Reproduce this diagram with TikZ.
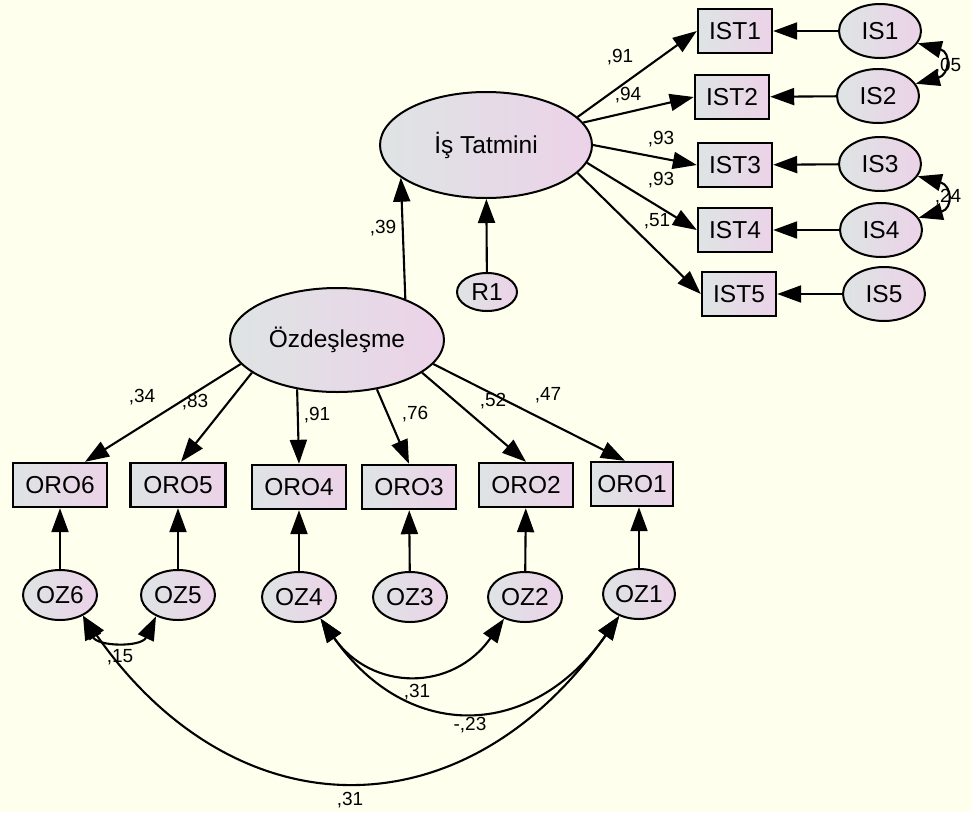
\documentclass[tikz,border=0pt]{standalone}
\usepackage{fontspec}
\setmainfont{Liberation Sans}
\usetikzlibrary{shapes, arrows.meta, calc, positioning}
\definecolor{bgcol}{RGB}{255,255,238}
\definecolor{fillL}{RGB}{222,228,228}
\definecolor{fillR}{RGB}{236,210,232}

\begin{document}
\begin{tikzpicture}[x=1pt, y=1pt,
        every node/.style = {font=\fontsize{24.5}{29}\selectfont},
        obs/.style = {rectangle, draw, line width=2.4pt, left color=fillL, right color=fillR, minimum height=44pt, inner sep=0pt},
        lat/.style = {ellipse, draw, line width=2pt, left color=fillL, right color=fillR, inner sep=0pt},
        err/.style = {lat, minimum width=74pt, minimum height=50pt},
        reg/.style = {line width=2.1pt, -{Triangle[length=24pt, width=17pt]}},
        cov/.style = {line width=2.1pt, {Triangle[length=24pt, width=17pt]}-{Triangle[length=24pt, width=17pt]}},
        lbl/.style = {font=\fontsize{19}{21}\selectfont, inner sep=0pt}]
        \useasboundingbox (0, 0) rectangle (972, -812);
        \fill[bgcol] (0, 0) rectangle (972, -812);

        \node[lat, minimum width=212pt, minimum height=106pt] (IsT) at (486, -145) {İş Tatmini};
        \node[lat, minimum width=60pt, minimum height=38pt] (R1) at (487, -292) {R1};
        \node[lat, minimum width=214pt, minimum height=104pt] (Ozd) at (337, -340) {Özdeşleşme};

        \node[obs, minimum width=74pt] (IST1) at (735, -31) {IST1};
        \node[obs, minimum width=74pt] (IST2) at (732, -97) {IST2};
        \node[obs, minimum width=74pt] (IST3) at (735, -165) {IST3};
        \node[obs, minimum width=74pt] (IST4) at (735, -230) {IST4};
        \node[obs, minimum width=74pt] (IST5) at (739, -294) {IST5};

        \node[err, minimum width=82pt, minimum height=54pt] (IS1) at (880, -31) {IS1};
        \node[err, minimum width=82pt, minimum height=54pt] (IS2) at (878, -96) {IS2};
        \node[err, minimum width=82pt, minimum height=54pt] (IS3) at (880, -164) {IS3};
        \node[err, minimum width=82pt, minimum height=54pt] (IS4) at (881, -230) {IS4};
        \node[err, minimum width=82pt, minimum height=54pt] (IS5) at (884, -294) {IS5};

        \node[obs, minimum width=94pt] (ORO6) at (60, -485) {ORO6};
        \node[obs, minimum width=95pt] (ORO5) at (178, -485) {ORO5};
        \node[obs, minimum width=94pt] (ORO4) at (299, -487) {ORO4};
        \node[obs, minimum width=94pt] (ORO3) at (409, -487) {ORO3};
        \node[obs, minimum width=94pt] (ORO2) at (526, -485) {ORO2};
        \node[obs, minimum width=82pt] (ORO1) at (632, -484) {ORO1};

        \node[err] (OZ6) at (60, -595) {OZ6};
        \node[err] (OZ5) at (178, -595) {OZ5};
        \node[err] (OZ4) at (299, -597) {OZ4};
        \node[err] (OZ3) at (410, -597) {OZ3};
        \node[err] (OZ2) at (525, -597) {OZ2};
        \node[err, minimum width=72pt] (OZ1) at (639, -594) {OZ1};

        \draw[reg] (R1) -- (IsT);
        \draw[reg] (Ozd.31.8) -- (IsT.201.7);

        \draw[reg] (IsT.17.5) -- (IST1.west);
        \draw[reg] (IsT.13) -- (IST2.west);
        \draw[reg] (IsT.0.5) -- (IST3.west);
        \draw[reg] (IsT.350) -- (IST4.west);
        \draw[reg] (IsT.343.5) -- (IST5.west);

        \draw[reg] (IS1) -- (IST1);
        \draw[reg] (IS2) -- (IST2);
        \draw[reg] (IS3) -- (IST3);
        \draw[reg] (IS4) -- (IST4);
        \draw[reg] (IS5) -- (IST5);

        \draw[reg] (Ozd.194) -- ([xshift=25pt]ORO6.north);
        \draw[reg] (Ozd.201.5) -- ([xshift=3pt]ORO5.north);
        \draw[reg] (Ozd.231.6) -- (ORO4.north);
        \draw[reg] (Ozd.309) -- (ORO3.north);
        \draw[reg] (Ozd.339) -- (ORO2.north);
        \draw[reg] (Ozd.346) -- ([xshift=-7pt]ORO1.north);

        \draw[reg] (OZ6) -- (ORO6);
        \draw[reg] (OZ5) -- (ORO5);
        \draw[reg] (OZ4) -- (ORO4);
        \draw[reg] (OZ3) -- (ORO3);
        \draw[reg] (OZ2) -- (ORO2);
        \draw[reg] (OZ1.north) -- (OZ1.north |- ORO1.south);

        \draw[cov] (IS1.342.5) to[out=-15, in=15, looseness=2.2] (IS2.18);
        \draw[cov] (IS3.342.5) to[out=-15, in=15, looseness=2.2] (IS4.18);

        \draw[cov] (OZ6.318) to[out=-65, in=-115, looseness=1.2] (OZ5.224);
        \draw[cov] (OZ6.318) to[out=-55, in=-125, looseness=1.28] (OZ1.228);
        \draw[cov] (OZ4.315) to[out=-55, in=-125, looseness=1.25] (OZ2.226);
        \draw[cov] (OZ4.315) to[out=-55, in=-125, looseness=1.3] (OZ1.228);

        \node[lbl] (L39) at (383, -228) {,39};
        \node[lbl] (L91a) at (620, -57) {,91};
        \node[lbl] (L94) at (628, -95) {,94};
        \node[lbl] (L93a) at (661, -139) {,93};
        \node[lbl] (L93b) at (661, -180) {,93};
        \node[lbl] (L51) at (657, -221) {,51};
        \node[lbl] (L05) at (948, -66) {,05};
        \node[lbl] (L24) at (948, -197) {,24};

        \node[lbl] (L34) at (142, -397) {,34};
        \node[lbl] (L83) at (195, -402) {,83};
        \node[lbl] (L91b) at (317, -415) {,91};
        \node[lbl] (L76) at (415, -414) {,76};
        \node[lbl] (L52) at (493, -401) {,52};
        \node[lbl] (L47) at (548, -395) {,47};

        \node[lbl] (L15) at (120, -657) {,15};
        \node[lbl] (L31a) at (417, -692) {,31};
        \node[lbl] (L23) at (470, -725) {-,23};
        \node[lbl] (L31b) at (350, -800) {,31};
    \end{tikzpicture}
\end{document}
